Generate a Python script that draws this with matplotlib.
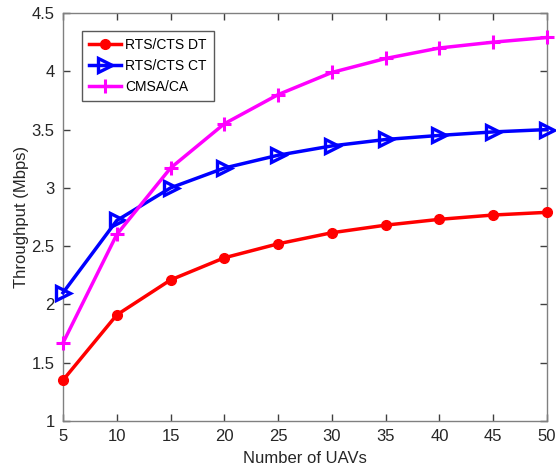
import matplotlib
matplotlib.use("Agg")
import matplotlib.pyplot as plt

plt.rcParams['font.family'] = ['Liberation Sans', 'DejaVu Sans']

uavs = [5, 10, 15, 20, 25, 30, 35, 40, 45, 50]
rts_dt = [1.35, 1.91, 2.21, 2.40, 2.52, 2.615, 2.68, 2.73, 2.767, 2.79]
rts_ct = [2.10, 2.72, 3.00, 3.17, 3.28, 3.36, 3.415, 3.45, 3.48, 3.50]
cmsa_ca = [1.67, 2.60, 3.17, 3.55, 3.80, 3.99, 4.11, 4.20, 4.25, 4.29]

x_ticks = [5, 10, 15, 20, 25, 30, 35, 40, 45, 50]
y_ticks = [1, 1.5, 2, 2.5, 3, 3.5, 4, 4.5]
y_tick_labels = ['1', '1.5', '2', '2.5', '3', '3.5', '4', '4.5']

fig = plt.figure(figsize=(5.56, 4.70), dpi=100)
ax = fig.add_axes([0.1133, 0.1043, 0.8705, 0.868])

ax.plot(uavs, rts_dt, color='#ff0000', lw=2.5, marker='o', ms=7,
        mfc='#ff0000', mec='#ff0000', label='RTS/CTS DT', clip_on=False, zorder=3)
ax.plot(uavs, rts_ct, color='#0000ff', lw=2.5, marker='>', ms=9.5,
        mfc='none', mec='#0000ff', mew=2.4, label='RTS/CTS CT', clip_on=False, zorder=3)
ax.plot(uavs, cmsa_ca, color='#ff00ff', lw=2.5, marker='+', ms=10,
        mec='#ff00ff', mew=2.2, label='CMSA/CA', clip_on=False, zorder=3)

ax.set_xlim(5, 50)
ax.set_ylim(1, 4.5)
ax.set_xticks(x_ticks)
ax.set_yticks(y_ticks)
ax.set_yticklabels(y_tick_labels)

for sp in ax.spines.values():
    sp.set_color('#808080')
    sp.set_linewidth(1.0)
ax.tick_params(direction='in', length=5, width=1.0, color='#404040',
               labelsize=12, labelcolor='#262626', top=True, right=True, pad=6)

ax.set_xlabel('Number of UAVs', fontsize=12, color='#262626', labelpad=5)
ax.set_ylabel('Throughput (Mbps)', fontsize=12, color='#262626', labelpad=2)

leg = ax.legend(loc='upper left', bbox_to_anchor=(0.04, 0.955), fontsize=10,
                frameon=True, fancybox=False, edgecolor='#303030',
                handlelength=2.3, handletextpad=0.3, borderpad=0.5,
                labelspacing=0.5, borderaxespad=0)
leg.get_frame().set_linewidth(1.0)

fig.savefig('out.png', dpi=100)
